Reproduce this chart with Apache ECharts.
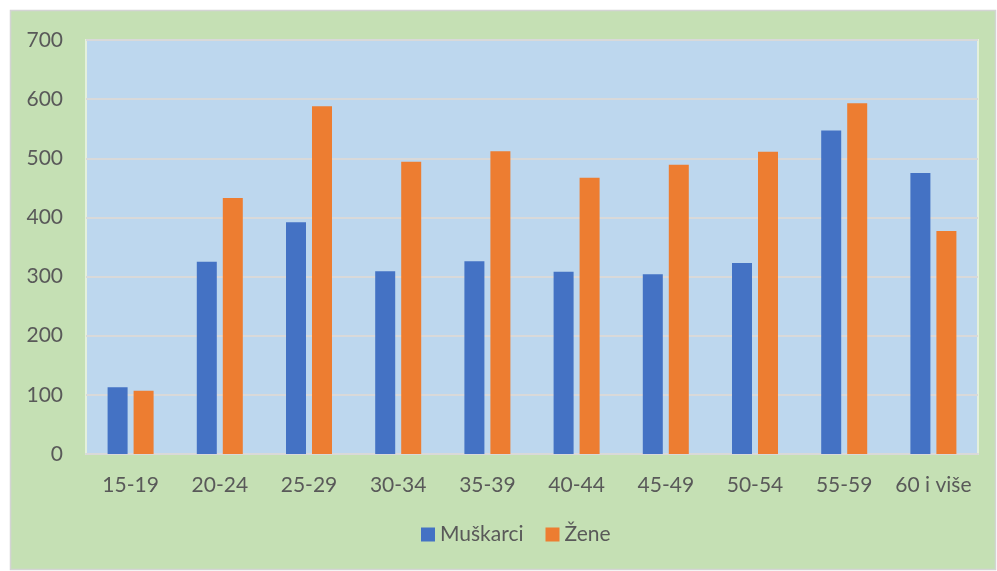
<!DOCTYPE html>
<html>
<head>
<meta charset="utf-8">
<script src="https://cdn.jsdelivr.net/npm/echarts@6/dist/echarts.min.js"></script>
<style>
    html, body { margin: 0; padding: 0; background: #fff; }
    #chart { width: 997px; height: 571px; }
</style>
</head>
<body>
<div id="chart"></div>
<script>
    // dobne skupine
    const categories = ['15-19', '20-24', '25-29', '30-34', '35-39', '40-44', '45-49', '50-54', '55-59', '60 i više']
    const muskarci = [113, 325, 392, 309, 326, 308, 304, 323, 547, 475]
    const zene = [107, 433, 588, 494, 512, 467, 489, 511, 593, 377]
    const yTicks = [0, 100, 200, 300, 400, 500, 600, 700]

    const myChart = echarts.init(document.getElementById('chart'))
    myChart.setOption({
        backgroundColor: '#fff',
        textStyle: { fontFamily: 'Lato' },
        graphic: [{
            type: 'rect',
            z: -10,
            shape: { x: 10.5, y: 10.5, width: 985, height: 559 },
            style: { fill: '#c5e0b4', stroke: '#d4d4d4', lineWidth: 1.5 }
        }],
        grid: {
            left: 86,
            right: 19,
            top: 40,
            bottom: 117,
            show: true,
            backgroundColor: '#bdd7ee',
            borderColor: '#e4f0dc',
            borderWidth: 2
        },
        legend: {
            bottom: 21,
            left: 416,
            itemWidth: 14,
            itemHeight: 14,
            itemGap: 22,
            icon: 'rect',
            textStyle: { fontSize: 21, color: '#595959', fontFamily: 'Lato' },
            data: ['Muškarci', 'Žene']
        },
        xAxis: {
            type: 'category',
            data: categories,
            axisTick: { show: false },
            axisLine: { lineStyle: { color: '#d9d9d9', width: 2 } },
            axisLabel: { fontSize: 21, color: '#595959', margin: 21, interval: 0 }
        },
        yAxis: {
            type: 'value',
            min: yTicks[0],
            max: yTicks[yTicks.length - 1],
            interval: 100,
            axisLine: { show: false },
            axisTick: { show: false },
            axisLabel: { fontSize: 21, color: '#595959', margin: 23 },
            splitLine: { lineStyle: { color: '#d9d9d9', width: 2 } }
        },
        series: [
            {
                name: 'Muškarci',
                type: 'bar',
                data: muskarci,
                barWidth: 20,
                barGap: '30%',
                itemStyle: { color: '#4472c4' }
            },
            {
                name: 'Žene',
                type: 'bar',
                data: zene,
                barWidth: 20,
                itemStyle: { color: '#ed7d31' }
            }
        ]
    })
</script>
</body>
</html>
